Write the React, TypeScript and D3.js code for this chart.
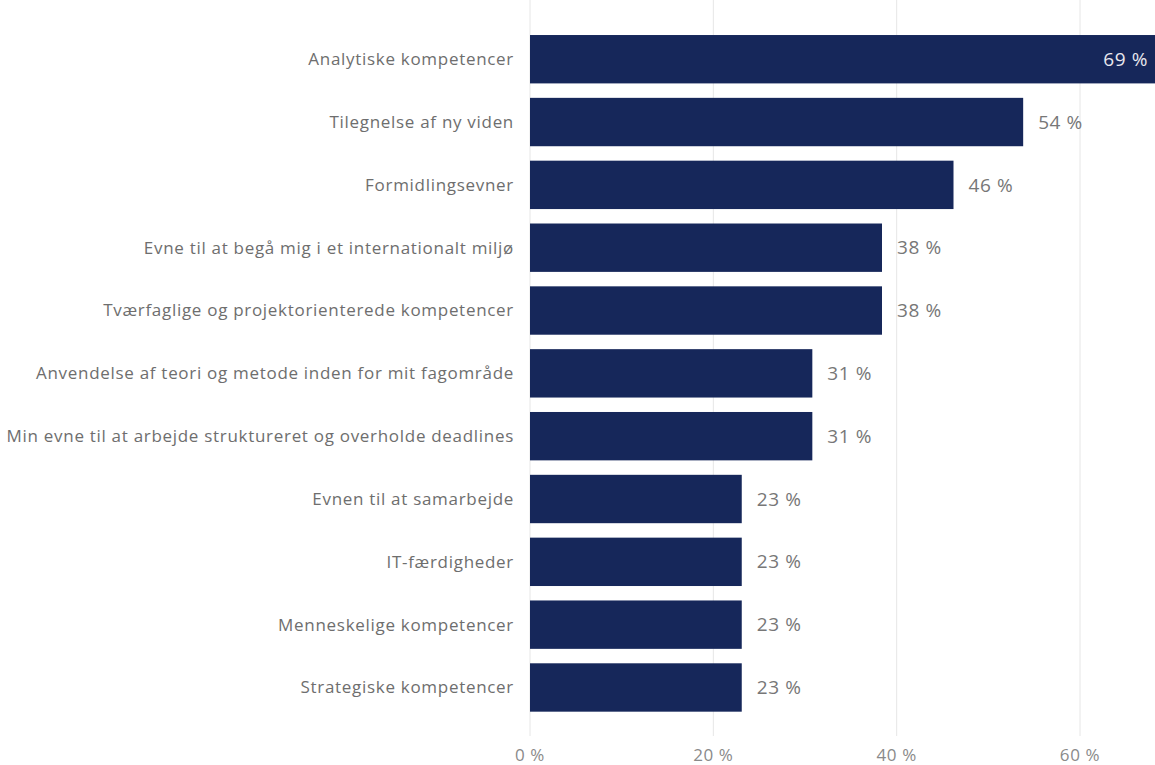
import { useRef, useEffect } from "react";
import * as d3 from "d3";

// Categories, top to bottom
const categories = [
  "Analytiske kompetencer",
  "Tilegnelse af ny viden",
  "Formidlingsevner",
  "Evne til at begå mig i et internationalt miljø",
  "Tværfaglige og projektorienterede kompetencer",
  "Anvendelse af teori og metode inden for mit fagområde",
  "Min evne til at arbejde struktureret og overholde deadlines",
  "Evnen til at samarbejde",
  "IT-færdigheder",
  "Menneskelige kompetencer",
  "Strategiske kompetencer",
];
// Share in percent
const values = [69.2, 53.8, 46.2, 38.4, 38.4, 30.8, 30.8, 23.1, 23.1, 23.1, 23.1];
const xTicks = [0, 20, 40, 60];

const App = () => {
  const svgRef = useRef<SVGSVGElement | null>(null);

  useEffect(() => {
    const width = 1155;
    const height = 765;
    const svg = d3.select(svgRef.current);
    svg.selectAll("*").remove();

    const x = d3.scaleLinear().domain([0, 60]).range([530, 1080]);
    const y = d3.scaleBand<string>()
      .domain(categories)
      .range([27.8, 718.9])
      .paddingInner(0.23)
      .paddingOuter(0.115);

    const font = "'Open Sans', 'Noto Sans', sans-serif";

    // gridlines
    svg.append("g")
      .selectAll("line")
      .data(xTicks)
      .join("line")
      .attr("x1", d => x(d))
      .attr("x2", d => x(d))
      .attr("y1", 0)
      .attr("y2", 736)
      .attr("stroke", "#e6e6e6")
      .attr("stroke-width", 1);

    // tick labels
    svg.append("g")
      .selectAll("text")
      .data(xTicks)
      .join("text")
      .attr("x", d => x(d))
      .attr("y", 761)
      .attr("text-anchor", "middle")
      .attr("font-family", font)
      .attr("font-size", 17)
      .attr("letter-spacing", 0.6)
      .attr("fill", "#8a8a8a")
      .text(d => `${d} %`);

    // bars
    svg.append("g")
      .selectAll("rect")
      .data(values)
      .join("rect")
      .attr("x", x(0))
      .attr("y", (_, i) => y(categories[i]) as number)
      .attr("width", d => x(d) - x(0))
      .attr("height", y.bandwidth())
      .attr("fill", "#16275a");

    // category labels
    svg.append("g")
      .selectAll("text")
      .data(categories)
      .join("text")
      .attr("x", 514)
      .attr("y", d => (y(d) as number) + y.bandwidth() / 2)
      .attr("dy", "0.35em")
      .attr("text-anchor", "end")
      .attr("font-family", font)
      .attr("font-size", 17)
      .attr("letter-spacing", 0.7)
      .attr("fill", "#6e6e6e")
      .text(d => d);

    // value labels
    svg.append("g")
      .selectAll("text")
      .data(values)
      .join("text")
      .each(function (d, i) {
        const inside = x(d) > width - 40;
        d3.select(this)
          .attr("x", inside ? width - 7 : x(d) + 15)
          .attr("text-anchor", inside ? "end" : "start")
          .attr("fill", inside ? "#e8e8ee" : "#777777");
        d3.select(this).attr("y", (y(categories[i]) as number) + y.bandwidth() / 2);
      })
      .attr("dy", "0.35em")
      .attr("font-family", font)
      .attr("font-size", 19)
      .attr("letter-spacing", 0.6)
      .text(d => `${Math.round(d)} %`);

    svg.attr("width", width).attr("height", height);
  }, []);

  return (
    <svg
      ref={svgRef}
      width={1155}
      height={765}
      style={{ position: "absolute", left: 0, top: 0, background: "#fff" }}
    />
  );
};

export default App;
